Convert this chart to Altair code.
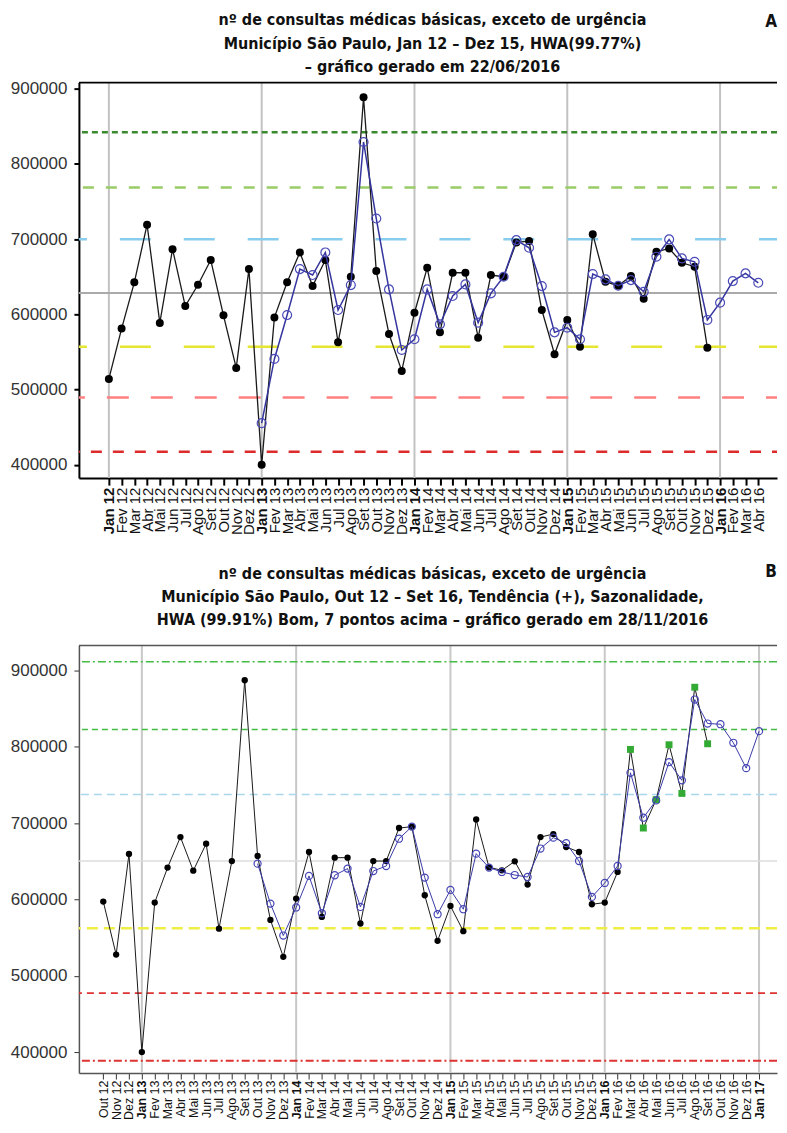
import json
import altair as alt
import pandas as pd

MESES = ["Jan", "Fev", "Mar", "Abr", "Mai", "Jun", "Jul", "Ago", "Set", "Out", "Nov", "Dez"]

# ---------------- Painel A: Jan 12 - Abr 16 ----------------
rotulos_a = [f"{MESES[k % 12]} {12 + k // 12}" for k in range(52)]
obs_a = [514200, 581100, 642600, 719200, 588600, 686700, 611000, 639400, 672200, 598700, 528800, 660200,
         400000, 596000, 642600, 682300, 637600, 672200, 562900, 650000, 888500, 657500, 573900, 524900,
         602200, 661900, 576100, 655300, 655300, 569000, 652300, 650000, 695600, 697400, 605800, 547000,
         592600, 557100, 706600, 643400, 638000, 650900, 620800, 683200, 687600, 668600, 663300, 555800]
inicio_ajuste_a = 12
ajuste_a = [455400, 540800, 599100, 660200, 652300, 682300, 605800, 638900, 829100, 727400, 633200, 552700,
            566900, 633200, 586800, 624400, 639800, 589000, 627900, 650000, 698600, 688500, 637600, 576100,
            582300, 566900, 653600, 646500, 638000, 645600, 630000, 676600, 699600, 674400, 669900, 592600,
            615600, 644300, 654500, 642000]
limites_a = [842000, 768600, 700000, 628500, 557100, 489400, 417500]
titulo_a = ["nº de consultas médicas básicas, exceto de urgência",
            "Município São Paulo, Jan 12 – Dez 15, HWA(99.77%)",
            "– gráfico gerado em 22/06/2016"]

# ---------------- Painel B: Out 12 - Jan 17 ----------------
rotulos_b = [f"{MESES[(9 + k) % 12]} {12 + (9 + k) // 12}" for k in range(52)]
obs_b = [597200, 527900, 659500, 400200, 595900, 641700, 681700, 637700, 673000, 561800, 650300, 886900,
         657000, 573200, 524900, 601200, 662100, 577200, 654700, 654700, 568500, 650300, 650300, 693500,
         695300, 605500, 545800, 591500, 558500, 704700, 642100, 638100, 649900, 619500, 681600, 685600,
         668700, 662100, 593700, 595900, 636000, 796400, 693500, 730600, 802500, 738800, 877800, 803800]
alertas_b = [41, 42, 43, 44, 45, 46, 47]
inicio_ajuste_b = 12
ajuste_b = [646900, 594600, 552800, 589500, 630800, 582000, 631700, 640400, 590200, 637200, 643800, 679500,
            695300, 628600, 580700, 612500, 587200, 660000, 641700, 636000, 632000, 629400, 666700, 680900,
            673700, 650300, 603300, 621600, 643800, 765800, 707000, 729700, 779700, 755900, 861700, 830300,
            829400, 805100, 771900, 820300]
limites_b = [911000, 822500, 737500, 650300, 562400, 477400, 388900]
titulo_b = ["nº de consultas médicas básicas, exceto de urgência",
            "Município São Paulo, Out 12 – Set 16, Tendência (+), Sazonalidade,",
            "HWA (99.91%) Bom, 7 pontos acima – gráfico gerado em 28/11/2016"]

valores_y = [400000, 500000, 600000, 700000, 800000, 900000]

# ---------------- estilos ----------------
TFONT = "Liberation Sans Narrow, DejaVu Sans Condensed, Liberation Sans"
AFONT = "Liberation Sans, Arial"
W = 699

estilo_a = dict(
    cores=["#3a8a2e", "#99cc66", "#88ccee", "#aaaaaa", "#e6e632", "#ff8080", "#dd2a2a"],
    tracos=[[6, 4], [11, 12], [31, 33], None, [31, 33], [22, 22], [11, 11]],
    desloc=[0, 6, 13, 0, 13, 11, 6],
    larg=[2.5, 2.5, 2.5, 2, 2.5, 2.5, 2.5],
    frame="#000000", frame_w=2, tick_w=2, tick_c="#000000",
    xlab=15, xtick=7, xpad=2, ptb=64, pta=80, lw_b=1.3, lw_a=1.5,
    azul_l="#35359f", azul_p="#4a4ab8",
    grade="#c2c2c2",
)
estilo_b = dict(
    cores=["#44bb44", "#44bb44", "#a8d8ea", "#dddddd", "#eeee44", "#dd3333", "#dd3333"],
    tracos=[[8, 3, 2, 3], [6, 4], [8, 5], None, [11, 6], [7, 5], [8, 3, 2, 3]],
    desloc=[0, 0, 0, 0, 0, 0, 0],
    larg=[1.5, 1.5, 1.5, 1.5, 2.5, 1.8, 1.8],
    frame="#555555", frame_w=1.5, tick_w=1, tick_c="#333333",
    xlab=12.5, xtick=6, xpad=1, ptb=40, pta=50, lw_b=1.0, lw_a=1.0,
    azul_l="#3a3aa8", azul_p="#4545b5",
    grade="#c8c8c8",
)


def painel(rotulos, obs, inicio, ajuste, alertas, limites, dom_x, dom_y, altura,
           titulo, pos_titulo, letra, pos_letra, e):
    jan = [k for k, r in enumerate(rotulos) if r.startswith("Jan")]
    eixo_x = alt.Axis(
        values=list(range(len(rotulos))),
        labelExpr=f"{json.dumps(rotulos)}[datum.value]",
        labelAngle=270, labelOverlap=False, labelBound=False, labelFlush=False,
        labelFont=AFONT, labelFontSize=e["xlab"], labelColor="#111111", labelPadding=e["xpad"],
        labelFontWeight={"condition": {"test": f"indexof({json.dumps(jan)}, datum.value) >= 0",
                                       "value": "bold"}, "value": "normal"},
        grid=False, title=None, tickSize=e["xtick"], tickWidth=e["tick_w"], tickColor=e["tick_c"],
        domainColor=e["frame"], domainWidth=e["frame_w"],
    )
    eixo_y = alt.Axis(
        values=valores_y, format="d", grid=False, title=None,
        labelFont=AFONT, labelFontSize=17, labelColor="#333333", labelPadding=7,
        tickSize=5, tickWidth=e["tick_w"], tickColor=e["tick_c"],
        domainColor=e["frame"], domainWidth=e["frame_w"],
    )
    xs = alt.Scale(domain=dom_x, nice=False, zero=False)
    ys = alt.Scale(domain=dom_y, nice=False, zero=False)
    X = alt.X("i:Q", scale=xs, axis=eixo_x)
    Y = alt.Y("v:Q", scale=ys, axis=eixo_y)

    camadas = []
    camadas.append(alt.Chart(pd.DataFrame({"i": jan})).mark_rule(color=e["grade"], strokeWidth=2)
                   .encode(x=X))
    for k, lim in enumerate(limites):
        props = dict(color=e["cores"][k], strokeWidth=e["larg"][k])
        if e["tracos"][k] is not None:
            props["strokeDash"] = e["tracos"][k]
            props["strokeDashOffset"] = e["desloc"][k]
        camadas.append(alt.Chart(pd.DataFrame({"v": [lim]})).mark_rule(**props).encode(y=Y))
    # moldura superior
    camadas.append(alt.Chart(pd.DataFrame({"v": [dom_y[1]]})).mark_rule(
        color=e["frame"], strokeWidth=e["frame_w"]).encode(y=Y))

    df_obs = pd.DataFrame({"i": list(range(len(obs))), "v": obs})
    df_obs["alerta"] = df_obs["i"].isin(alertas)
    df_aj = pd.DataFrame({"i": list(range(inicio, inicio + len(ajuste))), "v": ajuste})

    camadas.append(alt.Chart(df_obs).mark_line(color="#1a1a1a", strokeWidth=e["lw_b"]).encode(x=X, y=Y))
    camadas.append(alt.Chart(df_obs[~df_obs["alerta"]]).mark_circle(color="#000000", opacity=1, size=e["ptb"])
                   .encode(x=X, y=Y))
    if alertas:
        camadas.append(alt.Chart(df_obs[df_obs["alerta"]]).mark_square(color="#33aa33", opacity=1,
                                                                        size=e["ptb"] + 8)
                       .encode(x=X, y=Y))
    camadas.append(alt.Chart(df_aj).mark_line(color=e["azul_l"], strokeWidth=e["lw_a"]).encode(x=X, y=Y))
    camadas.append(alt.Chart(df_aj).mark_point(shape="circle", filled=False, color=e["azul_p"],
                                                strokeWidth=1.2, size=e["pta"], opacity=1)
                   .encode(x=X, y=Y))

    for linha, yy in zip(titulo, pos_titulo):
        camadas.append(alt.Chart(pd.DataFrame({"t": [linha]})).mark_text(
            font=TFONT, fontSize=16, fontWeight="bold", align="center", baseline="middle", color="#111111")
            .encode(x=alt.value(354), y=alt.value(yy), text="t:N"))
    camadas.append(alt.Chart(pd.DataFrame({"t": [letra]})).mark_text(
        font=TFONT, fontSize=17, fontWeight="bold", align="right", baseline="middle", color="#111111")
        .encode(x=alt.value(pos_letra[0]), y=alt.value(pos_letra[1]), text="t:N"))

    return alt.layer(*camadas).properties(width=W, height=altura)


pa = painel(rotulos_a, obs_a, inicio_ajuste_a, ajuste_a, [], limites_a,
            [-2.353, -2.353 + W / 12.75], [382400, 908000], 396,
            titulo_a, [-62.3, -38.8, -15.3], "A", (W, -60.3), estilo_a)
pb = painel(rotulos_b, obs_b, inicio_ajuste_b, ajuste_b, alertas_b, limites_b,
            [-1.895, -1.895 + W / 12.875], [372800, 932300], 428,
            titulo_b, [-72, -49, -26], "B", (W, -74), estilo_b)

chart = alt.vconcat(pa, pb, spacing=167.7, bounds="flush").properties(
    padding={"left": 2, "top": 3, "right": 0, "bottom": 0}
).configure_view(stroke=None)

chart.save("out.html", embed_options={"renderer": "svg", "actions": False})
